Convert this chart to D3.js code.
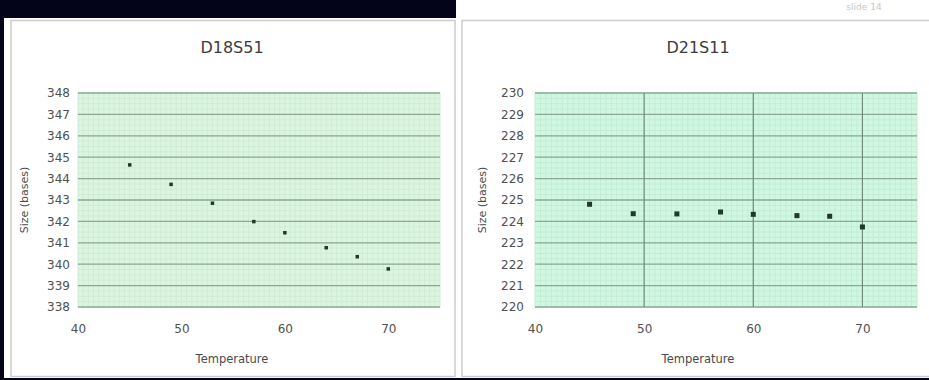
<!DOCTYPE html>
<html>
<head>
<meta charset="utf-8">
<script src="https://cdn.jsdelivr.net/npm/d3@7"></script>
<style>
  body { margin: 0; background: #03031a; }
  svg { display: block; }
  text { font-family: "DejaVu Sans", Verdana, sans-serif; fill: #444; }
</style>
</head>
<body>
<script>
// data
var temperatures = [45, 49, 53, 57, 60, 64, 67, 70];
var d18s51Sizes = [344.64, 343.73, 342.85, 341.99, 341.47, 340.77, 340.35, 339.78];
var d21s11Sizes = [224.80, 224.36, 224.35, 224.44, 224.33, 224.27, 224.24, 223.74];
var xTicks = [40, 50, 60, 70];
var d18Ticks = [338, 339, 340, 341, 342, 343, 344, 345, 346, 347, 348];
var d21Ticks = [220, 221, 222, 223, 224, 225, 226, 227, 228, 229, 230];

var svg = d3.select("body").append("svg")
    .attr("width", 929)
    .attr("height", 380);

// panel backgrounds
svg.append("rect").attr("x", 4).attr("y", 18).attr("width", 453).attr("height", 360).attr("fill", "#fff");
svg.append("rect").attr("x", 456).attr("y", 0).attr("width", 473).attr("height", 378).attr("fill", "#fff");
svg.append("rect").attr("x", 11).attr("y", 20.5).attr("width", 444).attr("height", 356).attr("fill", "none").attr("stroke", "#cccccc").attr("stroke-width", 1.5);
svg.append("rect").attr("x", 462).attr("y", 20.5).attr("width", 480).attr("height", 356).attr("fill", "none").attr("stroke", "#cccccc").attr("stroke-width", 1.5);

svg.append("text")
    .attr("x", 864).attr("y", 10)
    .attr("text-anchor", "middle")
    .style("font-size", "9px")
    .style("fill", "#c8c8c8")
    .text("slide 14");

function drawChart(opt) {
  var x = d3.scaleLinear().domain([40, 75]).range([opt.left, opt.right]);
  var y = d3.scaleLinear().domain(opt.yDomain).range([307, 93]);
  var g = svg.append("g");

  g.append("rect")
      .attr("x", x(40)).attr("y", y(opt.yDomain[1]))
      .attr("width", x(75) - x(40)).attr("height", y(opt.yDomain[0]) - y(opt.yDomain[1]))
      .attr("fill", opt.bg);

  // fine graph-paper grid
  g.append("g").selectAll("line")
    .data(d3.range(40, 75.01, 0.5))
    .enter().append("line")
      .attr("x1", function(d) { return x(d); }).attr("x2", function(d) { return x(d); })
      .attr("y1", y(opt.yDomain[1])).attr("y2", y(opt.yDomain[0]))
      .attr("stroke", opt.minor).attr("stroke-width", 1);
  g.append("g").selectAll("line")
    .data(d3.range(opt.yDomain[0], opt.yDomain[1] + 0.01, 0.25))
    .enter().append("line")
      .attr("x1", x(40)).attr("x2", x(75))
      .attr("y1", function(d) { return y(d); }).attr("y2", function(d) { return y(d); })
      .attr("stroke", opt.minor).attr("stroke-width", 1);

  // major horizontal grid
  g.append("g").selectAll("line")
    .data(opt.yTicks)
    .enter().append("line")
      .attr("x1", x(40)).attr("x2", x(75))
      .attr("y1", function(d) { return y(d); }).attr("y2", function(d) { return y(d); })
      .attr("stroke", "#8aa894").attr("stroke-width", 1.3);

  if (opt.vGrid) {
    g.append("g").selectAll("line")
      .data(xTicks.slice(1))
      .enter().append("line")
        .attr("x1", function(d) { return x(d); }).attr("x2", function(d) { return x(d); })
        .attr("y1", y(opt.yDomain[1])).attr("y2", y(opt.yDomain[0]))
        .attr("stroke", "#6f8c78").attr("stroke-width", 1.2);
  }

  g.append("g").selectAll("rect.pt")
    .data(temperatures)
    .enter().append("rect")
      .attr("class", "pt")
      .attr("x", function(d) { return x(d) - opt.ms / 2; })
      .attr("y", function(d, i) { return y(opt.values[i]) - opt.ms / 2; })
      .attr("width", opt.ms).attr("height", opt.ms)
      .attr("fill", "#1f3a2a");

  // axes (tick labels only)
  var yAxis = g.append("g")
      .attr("transform", "translate(" + x(40) + ",0)")
      .call(d3.axisLeft(y).tickValues(opt.yTicks).tickSize(0).tickPadding(opt.yPad).tickFormat(d3.format("d")));
  yAxis.select(".domain").remove();
  yAxis.selectAll("text").style("font-size", "12px").style("fill", "#505050").style("font-family", "DejaVu Sans, sans-serif");

  var xAxis = g.append("g")
      .attr("transform", "translate(0," + y(opt.yDomain[0]) + ")")
      .call(d3.axisBottom(x).tickValues(xTicks).tickSize(0).tickPadding(17).tickFormat(d3.format("d")));
  xAxis.select(".domain").remove();
  xAxis.selectAll("text").style("font-size", "12px").style("fill", "#505050").style("font-family", "DejaVu Sans, sans-serif");

  g.append("text")
      .attr("x", opt.titleX).attr("y", 53)
      .attr("text-anchor", "middle")
      .style("font-size", "16px").style("fill", "#3c3c3c")
      .text(opt.title);

  g.append("text")
      .attr("x", opt.titleX).attr("y", 363)
      .attr("text-anchor", "middle")
      .style("font-size", "11.5px").style("fill", "#4a4a4a")
      .text("Temperature");

  g.append("text")
      .attr("transform", "translate(" + opt.yTitleX + ",200) rotate(-90)")
      .attr("text-anchor", "middle")
      .style("font-size", "11px").style("fill", "#4a4a4a")
      .text("Size (bases)");
}

drawChart({
  title: "D18S51", values: d18s51Sizes, yDomain: [338, 348], yTicks: d18Ticks,
  left: 78, right: 440, bg: "#dbf5e0", minor: "#cfecd5", vGrid: false, ms: 3.5,
  titleX: 232, yTitleX: 28, yPad: 8
});

drawChart({
  title: "D21S11", values: d21s11Sizes, yDomain: [220, 230], yTicks: d21Ticks,
  left: 535, right: 917, bg: "#d0f7e2", minor: "#c4ecd5", vGrid: true, ms: 5,
  titleX: 698, yTitleX: 486, yPad: 11
});
</script>
</body>
</html>
